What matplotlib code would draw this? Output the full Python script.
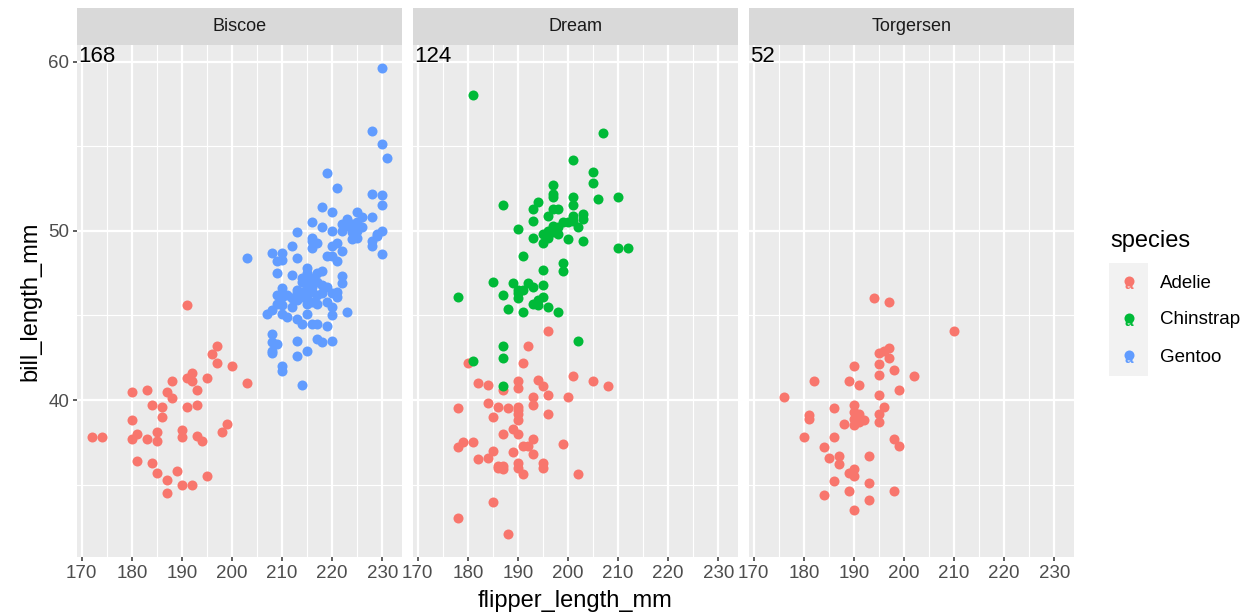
import numpy as np
import matplotlib.pyplot as plt
from matplotlib.patches import Rectangle

plt.rcParams['font.family'] = ['Liberation Sans', 'DejaVu Sans']

islands = ['Biscoe', 'Dream', 'Torgersen']
island_counts = [168, 124, 52]
species_names = ['Adelie', 'Chinstrap', 'Gentoo']
species_colors = ['#F8766D', '#00BA38', '#619CFF']
x_ticks = [170, 180, 190, 200, 210, 220, 230]
y_ticks = [40, 50, 60]

# (flipper_length_mm, bill_length_mm)
biscoe_adelie = [
    (191, 45.6), (197, 43.2), (196, 42.7), (197, 42.2), (200, 42.0), (203, 41.0),
    (192, 41.6), (191, 41.3), (192, 41.1), (195, 41.3), (188, 41.1), (193, 40.6),
    (180, 40.5), (183, 40.6), (187, 40.5), (188, 40.1), (184, 39.7), (186, 39.6),
    (191, 39.6), (193, 39.7), (186, 39.0), (180, 38.8), (199, 38.6), (198, 38.1),
    (172, 37.8), (174, 37.8), (181, 38.0), (180, 37.7), (183, 37.7), (185, 38.1),
    (185, 37.6), (190, 38.2), (190, 37.8), (193, 37.9), (194, 37.6), (181, 36.4),
    (184, 36.3), (185, 35.7), (189, 35.8), (187, 35.3), (195, 35.5), (190, 35.0),
    (192, 35.0), (187, 34.5),
]
biscoe_gentoo = [
    (230, 59.6), (228, 55.9), (230, 55.1), (231, 54.3), (219, 53.4), (221, 52.5),
    (228, 52.2), (230, 52.1), (230, 51.5), (218, 51.4), (220, 51.1), (225, 51.1),
    (226, 50.8), (223, 50.7), (228, 50.8), (222, 50.4), (216, 50.5),
    (218, 50.2), (220, 50.0), (224, 50.4), (224, 50.2), (225, 50.0), (224, 49.9),
    (224, 49.5), (225, 49.6), (213, 49.9), (230, 50.0), (229, 49.8), (229, 49.7),
    (228, 49.4), (228, 49.1), (230, 48.6), (216, 49.6), (216, 49.4), (217, 49.3),
    (216, 49.0), (212, 49.1), (220, 49.1), (221, 49.3), (222, 48.8), (220, 48.5),
    (219, 48.5), (221, 48.2), (208, 48.7), (210, 48.7), (209, 48.2), (210, 48.3),
    (213, 48.4), (203, 48.4),
    (209, 47.5), (212, 47.4), (215, 47.8), (215, 47.5), (214, 47.0), (215, 46.9),
    (216, 47.2), (217, 47.5), (218, 47.6), (219, 46.7), (222, 47.3), (222, 46.9),
    (210, 46.6), (209, 46.2), (211, 46.2), (213, 46.5), (215, 46.6), (215, 46.2),
    (216, 46.4), (217, 46.2), (214, 46.1), (221, 46.4), (221, 46.1),
    (210, 46.1), (209, 45.7), (213, 46.3), (218, 46.3), (220, 46.3), (210, 45.6),
    (212, 45.5), (210, 45.1), (211, 44.9), (213, 44.8), (214, 44.5), (207, 45.1),
    (208, 45.3), (215, 45.1), (219, 45.8), (220, 45.5), (220, 45.0), (223, 45.2),
    (216, 44.5), (217, 44.5), (219, 44.4), (208, 43.9), (208, 43.4), (209, 43.3),
    (208, 42.9), (208, 42.8), (210, 42.0), (210, 41.7), (213, 43.5), (217, 43.6),
    (218, 43.4), (220, 43.5), (215, 42.9), (213, 42.6), (214, 40.9),
    (215, 47.0), (216, 47.0), (214, 47.2), (215, 46.8), (216, 46.7), (217, 47.0),
    (218, 46.8), (214, 46.4), (215, 45.7), (216, 45.8), (212, 46.0), (213, 45.9),
    (217, 45.7), (222, 50.0), (223, 50.3), (225, 50.5), (226, 50.2),
]
dream_adelie = [
    (196, 44.1), (192, 43.2), (191, 42.2), (180, 42.2), (182, 41.0), (184, 40.9),
    (187, 40.6), (190, 41.1), (190, 40.7), (194, 41.2), (195, 40.8), (201, 41.4),
    (205, 41.1), (208, 40.8), (196, 40.3), (193, 40.2), (193, 39.7), (200, 40.2),
    (178, 39.5), (184, 39.8), (186, 39.6), (188, 39.5), (190, 39.6), (190, 39.2),
    (190, 38.8), (185, 39.0), (196, 39.2), (187, 38.0), (189, 38.3), (190, 38.0),
    (193, 37.7), (178, 37.2), (179, 37.5), (181, 37.5), (199, 37.4), (191, 37.3),
    (192, 37.3), (185, 37.0), (184, 36.6), (182, 36.5), (189, 36.9), (193, 36.8),
    (186, 36.0), (187, 36.1), (187, 35.9), (190, 36.3), (190, 36.0), (191, 35.6),
    (195, 36.3), (195, 36.0), (202, 35.6), (185, 34.0), (178, 33.0), (188, 32.1),
    (190, 39.4), (186, 36.1),
]
dream_chinstrap = [
    (181, 58.0), (207, 55.8), (201, 54.2), (205, 53.5), (205, 52.8), (197, 52.7),
    (197, 52.2), (197, 52.0), (201, 52.0), (206, 51.9), (210, 52.0), (187, 51.5),
    (194, 51.7), (193, 51.3), (197, 51.3), (198, 51.3), (201, 51.5), (196, 50.9),
    (203, 51.0), (203, 50.7), (201, 50.9), (193, 50.6), (201, 50.6), (200, 50.5),
    (199, 50.5), (202, 50.2), (190, 50.1), (197, 50.3), (198, 50.2), (196, 50.0),
    (197, 49.9), (195, 49.8), (198, 49.8), (193, 49.6), (200, 49.5), (203, 49.4),
    (195, 49.3), (210, 49.0), (212, 49.0), (191, 48.5), (199, 48.1), (195, 47.7),
    (199, 47.6), (185, 47.0), (189, 46.9), (192, 46.9), (195, 46.8), (193, 46.7),
    (178, 46.1), (187, 46.2), (190, 46.5), (191, 46.5), (190, 46.3), (190, 46.0),
    (195, 46.1), (194, 45.9), (193, 45.7), (196, 45.5), (188, 45.4), (191, 45.2),
    (198, 45.2), (194, 45.6), (202, 43.5), (187, 43.2), (187, 42.5), (181, 42.3),
    (187, 40.8), (196, 49.6),
]
torgersen_adelie = [
    (194, 46.0), (197, 45.8), (210, 44.1), (195, 42.8), (196, 42.9), (197, 43.1),
    (197, 42.5), (190, 42.0), (195, 42.1), (195, 41.5), (198, 41.8), (202, 41.4),
    (182, 41.1), (189, 41.1), (191, 40.9), (199, 40.6), (176, 40.2), (195, 40.3),
    (186, 39.5), (190, 39.7), (190, 39.3), (191, 39.0), (191, 38.7), (190, 38.5),
    (188, 38.6), (196, 39.6), (195, 39.2), (195, 38.7), (181, 39.1), (181, 38.9),
    (180, 37.8), (186, 37.8), (198, 37.7), (199, 37.3), (184, 37.2), (185, 36.6),
    (187, 36.7), (187, 36.2), (193, 36.7), (189, 35.7), (190, 35.9), (190, 35.5),
    (186, 35.2), (193, 35.1), (189, 34.6), (198, 34.6), (184, 34.4), (193, 34.1),
    (190, 33.5), (191, 39.2), (192, 38.8), (190, 38.9),
]

panels = {
    'Biscoe': {'Adelie': biscoe_adelie, 'Gentoo': biscoe_gentoo},
    'Dream': {'Adelie': dream_adelie, 'Chinstrap': dream_chinstrap},
    'Torgersen': {'Adelie': torgersen_adelie},
}

all_pts = np.array([p for isl in panels.values() for pts in isl.values() for p in pts])
xmin, xmax = all_pts[:, 0].min(), all_pts[:, 0].max()
ymin, ymax = all_pts[:, 1].min(), all_pts[:, 1].max()
xpad, ypad = 0.05 * (xmax - xmin), 0.05 * (ymax - ymin)

W, H = 1243, 616


def box(x0, y0, x1, y1):
    return [x0 / W, 1 - y1 / H, (x1 - x0) / W, (y1 - y0) / H]


fig = plt.figure(figsize=(W / 100, H / 100), dpi=100)

lefts = [77, 413, 749]
for i, isl in enumerate(islands):
    left = lefts[i]
    ax = fig.add_axes(box(left, 45, left + 325, 557))
    ax.set_facecolor('#EBEBEB')
    for sp, col in zip(species_names, species_colors):
        if sp in panels[isl]:
            pts = np.array(panels[isl][sp])
            ax.scatter(pts[:, 0], pts[:, 1], s=52, color=col, linewidths=0, zorder=3)
    ax.set_xlim(xmin - xpad, xmax + xpad)
    ax.set_ylim(ymin - ypad, ymax + ypad)
    ax.set_xticks(x_ticks)
    ax.set_xticks([175, 185, 195, 205, 215, 225], minor=True)
    ax.set_yticks(y_ticks)
    ax.set_yticks([35, 45, 55], minor=True)
    ax.grid(which='major', color='white', lw=1.6)
    ax.grid(which='minor', color='white', lw=0.8)
    ax.set_axisbelow(True)
    for s in ax.spines.values():
        s.set_visible(False)
    ax.tick_params(which='major', length=3, width=1.1, color='#333333',
                   labelsize=13.5, labelcolor='#4D4D4D', pad=2.5)
    ax.tick_params(which='minor', length=0)
    if i > 0:
        ax.tick_params(axis='y', which='major', length=0, labelleft=False)
    ax.text(0.003, 0.998, str(island_counts[i]), transform=ax.transAxes,
            ha='left', va='top', fontsize=16, color='black', zorder=5)

    strip = fig.add_axes(box(left, 8, left + 325, 45))
    strip.set_facecolor('#D9D9D9')
    strip.set_xticks([])
    strip.set_yticks([])
    for s in strip.spines.values():
        s.set_visible(False)
    strip.text(0.5, 0.5, isl, ha='center', va='center', fontsize=13, color='#1A1A1A',
               transform=strip.transAxes)

fig.text(575.5 / W, 1 - 601 / H, 'flipper_length_mm', ha='center', va='center', fontsize=17)
fig.text(30 / W, 1 - 301 / H, 'bill_length_mm', ha='center', va='center',
         rotation=90, fontsize=17)

# legend: grey key column with a point over an "a" glyph, like the ggplot keys
fig.text(1110 / W, 1 - 247 / H, 'species', ha='left', va='baseline', fontsize=17)
lax = fig.add_axes(box(1109, 263, 1148, 376))
lax.set_facecolor('#F2F2F2')
lax.set_xlim(0, 39)
lax.set_ylim(376, 263)
lax.set_xticks([])
lax.set_yticks([])
for s in lax.spines.values():
    s.set_visible(False)
key_y = [283, 320, 357]
for sp, col, ky in zip(species_names, species_colors, key_y):
    lax.scatter([20], [ky - 2], s=52, color=col, linewidths=0, zorder=3)
    lax.text(20, ky + 2, 'a', ha='center', va='center', fontsize=11,
             color=col, fontweight='bold', zorder=2)
    fig.text(1160 / W, 1 - ky / H, sp, ha='left', va='center', fontsize=13.5)

fig.savefig('out.png', dpi=100)
